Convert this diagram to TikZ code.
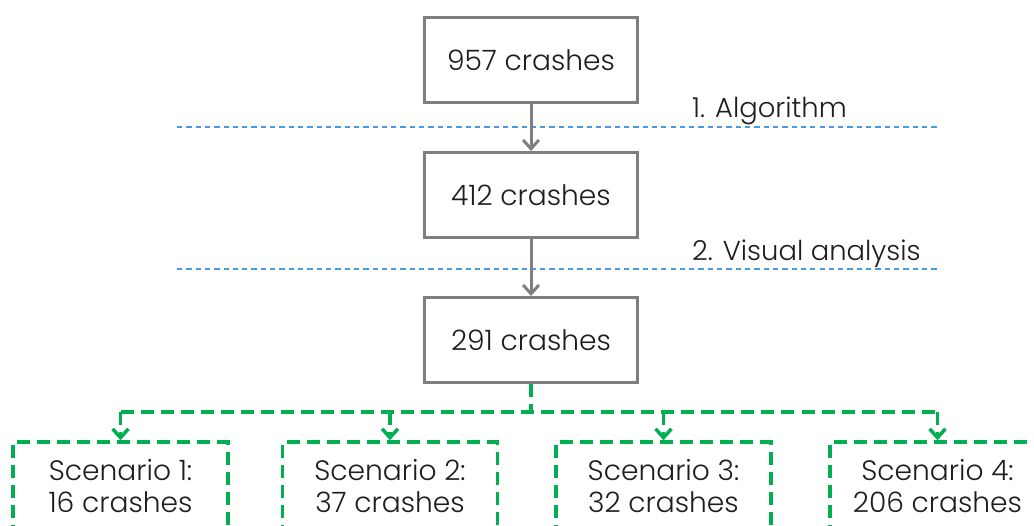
\documentclass[tikz,border=0pt]{standalone}
\usepackage{fontspec}
\setmainfont{Poppins}[UprightFont={* Light}]
\usetikzlibrary{arrows.meta,positioning}
\definecolor{boxgray}{RGB}{127,127,127}
\definecolor{stepblue}{RGB}{70,155,225}
\definecolor{scengreen}{RGB}{0,176,80}
\definecolor{textgray}{RGB}{30,30,30}

\begin{document}
\begin{tikzpicture}[x=0.02cm,y=-0.02cm,
    count/.style={draw=boxgray, line width=1.7pt, minimum width=4.28cm, minimum height=1.7cm,
      text=textgray, font=\fontsize{16}{18}\selectfont},
    scen/.style={draw=scengreen, line width=2pt, dash pattern=on 7.4pt off 4pt,
      minimum width=4.3cm, minimum height=1.76cm, align=center,
      text=textgray, font=\fontsize{16}{18}\selectfont},
    stepline/.style={draw=stepblue, line width=1.1pt, dash pattern=on 3pt off 2.3pt},
    steplabel/.style={anchor=west, text=textgray, font=\fontsize{15.6}{18}\selectfont},
    grayarrow/.style={draw=boxgray, line width=1.7pt, -{Straight Barb[length=5pt,width=9pt]}},
    greenline/.style={draw=scengreen, line width=2pt, dash pattern=on 7.4pt off 4pt}]
    \clip (0,0) rectangle (1034,526);

    % crash counts
    \node[count] (c1) at (531,60) {957 crashes};
    \node[count] (c2) at (531,195) {412 crashes};
    \node[count] (c3) at (531,340) {291 crashes};

    % steps
    \coordinate (l1a) at (177,127);
    \coordinate (l1b) at (938,127);
    \coordinate (l2a) at (177,269);
    \coordinate (l2b) at (938,269);
    \draw[stepline] (l1a) -- (l1b);
    \draw[stepline] (l2a) -- (l2b);
    \node[steplabel] (t1) at (686,111) {1. Algorithm};
    \node[steplabel] (t2) at (686,254) {2. Visual analysis};

    \draw[grayarrow] (c1) -- (c2);
    \draw[grayarrow] (c2) -- (c3);

    % scenarios
    \node[scen] (s1) at (120.5,486) {Scenario 1:\\16 crashes};
    \node[scen] (s2) at (390,486) {Scenario 2:\\37 crashes};
    \node[scen] (s3) at (663.5,486) {Scenario 3:\\32 crashes};
    \node[scen] (s4) at (937.5,486) {Scenario 4:\\206 crashes};

    \coordinate (j) at (531,412);
    \coordinate (jl) at (120.5,412);
    \coordinate (jr) at (937.5,412);
    \draw[greenline] (c3.south) -- (j);
    \draw[greenline] (jl) -- (jr);
    \draw[greenline, -{Straight Barb[length=5pt,width=9pt]}] (jl) -- (s1.north);
    \draw[greenline, -{Straight Barb[length=5pt,width=9pt]}] (390,412) -- (s2.north);
    \draw[greenline, -{Straight Barb[length=5pt,width=9pt]}] (663.5,412) -- (s3.north);
    \draw[greenline, -{Straight Barb[length=5pt,width=9pt]}] (jr) -- (s4.north);

\end{tikzpicture}
\end{document}
